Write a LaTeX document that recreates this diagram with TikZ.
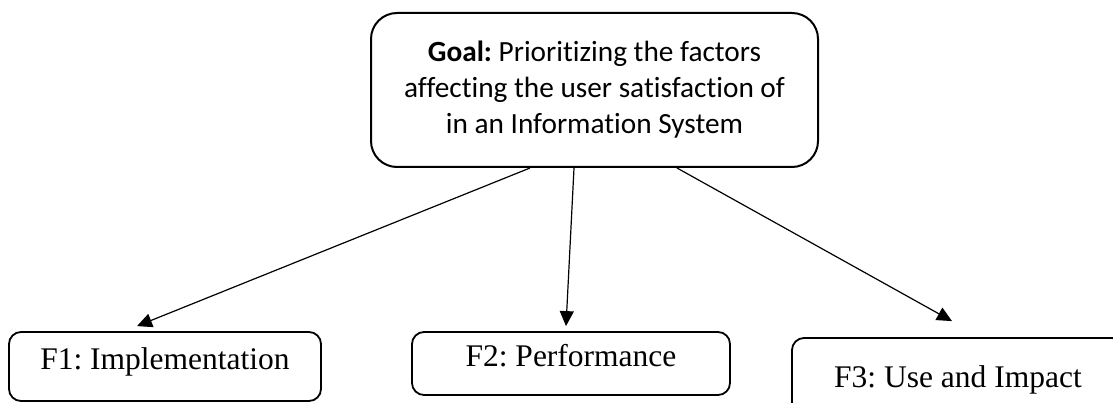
\documentclass[tikz,border=0pt]{standalone}
\usepackage{fontspec}
\setmainfont{Liberation Serif}
\newfontfamily\goalfont[Ligatures=NoCommon]{Carlito}
\usetikzlibrary{arrows.meta,calc}
\frenchspacing

\tikzset{
  goalbox/.style={draw, line width=2pt, rounded corners=26pt, inner sep=0pt,
    minimum width=447pt, minimum height=154pt, align=center,
    font=\goalfont\fontsize{29.3}{36}\selectfont},
  factorbox/.style={draw, line width=1.8pt, rounded corners=12pt, inner sep=0pt,
    text height=0.68em, text depth=0pt,
    font=\fontsize{31.5}{36}\selectfont},
  link/.style={line width=1.2pt, -{Triangle[length=15pt,width=14pt]}}
}

\begin{document}
\begin{tikzpicture}[x=1pt,y=-1pt]
\useasboundingbox (0,0) rectangle (1113,403);
\clip (0,0) rectangle (1113,403);

% goal at the top
\node[goalbox] (goal) at (594.5,90)
  {\textbf{Goal:} Prioritizing the factors\\affecting the user satisfaction of\\in an Information System};

% the three factors
\node[factorbox, minimum width=312pt, minimum height=69pt] (F1) at (165,366.5) {F1: Implementation};
\node[factorbox, minimum width=318pt, minimum height=63pt] (F2) at (571,363.5) {F2: Performance};
\node[factorbox, minimum width=332pt, minimum height=92pt] (F3) at (958,384) {F3: Use and Impact};

% arrow ends
\coordinate (s1) at ($(goal.south)+(-64.5,0)$);
\coordinate (s2) at ($(goal.south)+(-20.5,0)$);
\coordinate (s3) at ($(goal.south)+(82.5,0)$);
\coordinate (t1) at ($(F1.north)+(-28,-5)$);
\coordinate (t2) at ($(F2.north)+(-5,-5)$);
\coordinate (t3) at ($(F3.north)+(-6,-16)$);

\draw[link] (s1) -- (t1);
\draw[link] (s2) -- (t2);
\draw[link] (s3) -- (t3);
\end{tikzpicture}
\end{document}
